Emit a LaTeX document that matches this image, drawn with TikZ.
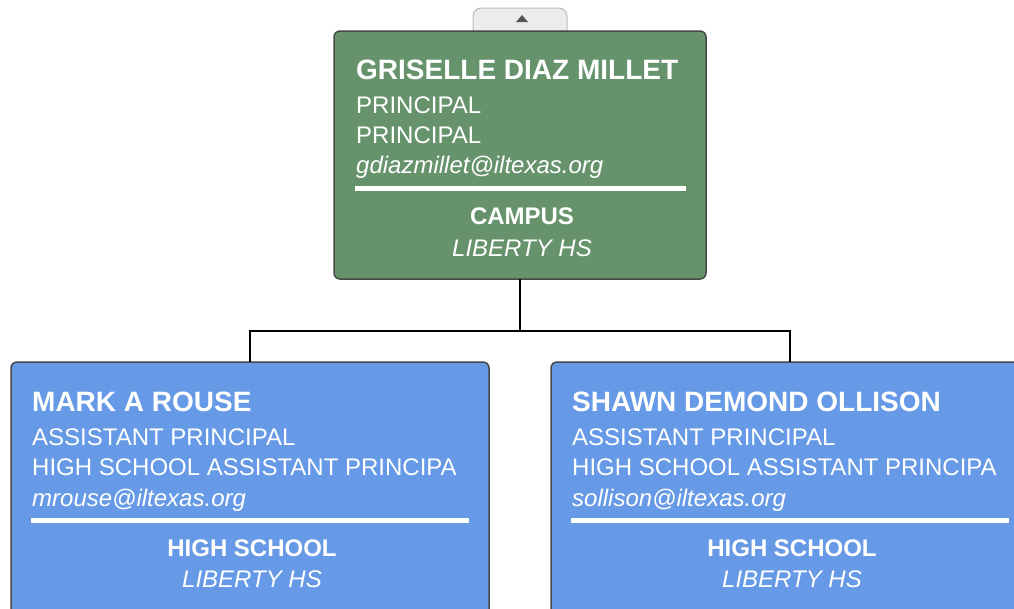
\documentclass[tikz,border=0pt]{standalone}
\usepackage{fontspec}
\setmainfont{Liberation Sans}
\definecolor{boxgreen}{HTML}{66936C}
\definecolor{boxblue}{HTML}{6699E6}
\definecolor{boxborder}{HTML}{474747}
\definecolor{tabfill}{HTML}{ECECEC}
\definecolor{tabborder}{HTML}{BBBBBB}
\definecolor{tabarrow}{HTML}{555555}
\tikzset{
  card/.style={draw=boxborder, line width=1.5pt, rounded corners=6pt, anchor=north west, inner sep=0pt, outer sep=0pt},
  nametext/.style={text=white, anchor=base west, inner sep=0pt, font=\fontsize{28}{32}\selectfont\bfseries},
  plaintext/.style={text=white, anchor=base west, inner sep=0pt, font=\fontsize{24}{28}\selectfont},
  mailtext/.style={text=white, anchor=base west, inner sep=0pt, font=\fontsize{24}{28}\selectfont\itshape},
  headtext/.style={text=white, anchor=base, inner sep=0pt, font=\fontsize{24}{28}\selectfont\bfseries},
  unittext/.style={text=white, anchor=base, inner sep=0pt, font=\fontsize{24}{28}\selectfont\itshape},
  sepline/.style={white, line width=5pt},
  link/.style={black, line width=1.5pt},
}
\begin{document}
\begin{tikzpicture}[x=1pt, y=-1pt]
\useasboundingbox (0,0) rectangle (1014,608);
\clip (0,0) rectangle (1014,608);
% collapse tab
\draw[fill=tabfill, draw=tabborder, line width=1pt, rounded corners=8pt] (473,32) -- (473,8) -- (567,8) -- (567,32);
\fill[tabarrow] (516,22) -- (528,22) -- (522,15) -- cycle;
% cards
\node[card, fill=boxgreen, minimum width=372pt, minimum height=248pt] (top) at (334,31) {};
\node[card, fill=boxblue, minimum width=478pt, minimum height=270pt] (left) at (11,362) {};
\node[card, fill=boxblue, minimum width=478pt, minimum height=270pt] (right) at (551,362) {};
% connectors
\coordinate (j) at ([yshift=-52pt]top.south);
\draw[link] (top.south) -- (j);
\draw[link] (left.north) |- (j) -| (right.north);
% top card text
\node[nametext] (tn) at (356,79) {GRISELLE DIAZ MILLET};
\node[plaintext] (tt1) at (356,113) {PRINCIPAL};
\node[plaintext] (tt2) at (356,143) {PRINCIPAL};
\node[mailtext] (tm) at (356,173) {gdiazmillet@iltexas.org};
\draw[sepline] (355,188.5) -- (686,188.5);
\node[headtext] (th) at (522,224) {CAMPUS};
\node[unittext] (tu) at (522,256) {LIBERTY HS};
% left card text
\node[nametext] (ln) at (32,411) {MARK A ROUSE};
\node[plaintext] (lt1) at (32,445) {ASSISTANT PRINCIPAL};
\node[plaintext] (lt2) at (32,475) {HIGH SCHOOL ASSISTANT PRINCIPA};
\node[mailtext] (lm) at (32,506) {mrouse@iltexas.org};
\draw[sepline] (31,520.5) -- (469,520.5);
\node[headtext] (lh) at (252,556) {HIGH SCHOOL};
\node[unittext] (lu) at (252,587) {LIBERTY HS};
% right card text
\node[nametext] (rn) at (572,411) {SHAWN DEMOND OLLISON};
\node[plaintext] (rt1) at (572,445) {ASSISTANT PRINCIPAL};
\node[plaintext] (rt2) at (572,475) {HIGH SCHOOL ASSISTANT PRINCIPA};
\node[mailtext] (rm) at (572,506) {sollison@iltexas.org};
\draw[sepline] (571,520.5) -- (1009,520.5);
\node[headtext] (rh) at (792,556) {HIGH SCHOOL};
\node[unittext] (ru) at (792,587) {LIBERTY HS};
\end{tikzpicture}
\end{document}
